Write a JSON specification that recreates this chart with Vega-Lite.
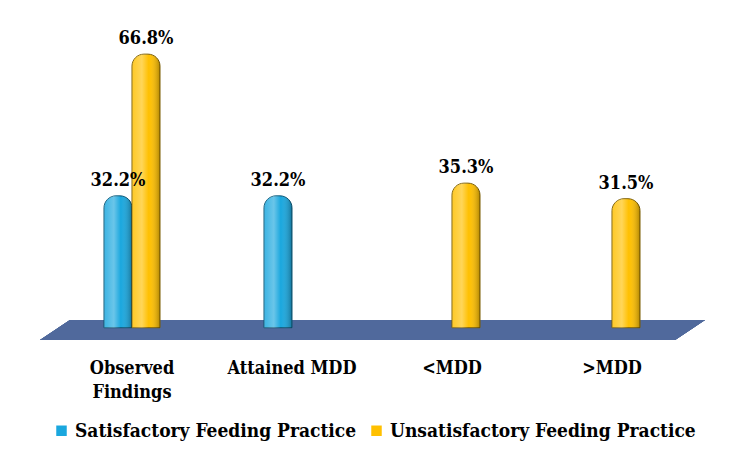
{
  "$schema": "https://vega.github.io/schema/vega-lite/v6.json",
  "autosize": {"type": "none"},
  "width": 640,
  "height": 301,
  "padding": {"left": 52, "top": 39, "right": 55, "bottom": 120},
  "background": "white",
  "config": {
    "view": {"stroke": null},
    "font": "DejaVu Serif Condensed"
  },
  "data": {
    "values": [
      {"category": "Observed Findings", "series": "Satisfactory Feeding Practice", "value": 32.2, "label": "32.2%"},
      {"category": "Observed Findings", "series": "Unsatisfactory Feeding Practice", "value": 66.8, "label": "66.8%"},
      {"category": "Attained MDD", "series": "Satisfactory Feeding Practice", "value": 32.2, "label": "32.2%"},
      {"category": "<MDD", "series": "Unsatisfactory Feeding Practice", "value": 35.3, "label": "35.3%"},
      {"category": ">MDD", "series": "Unsatisfactory Feeding Practice", "value": 31.5, "label": "31.5%"}
    ]
  },
  "resolve": {"scale": {"x": "independent"}},
  "layer": [
    {
      "mark": {"type": "point", "filled": true, "color": "#50699c", "opacity": 1, "size": 442225,
               "shape": "M -0.91 -0.03 L 1 -0.03 L 0.91 0.03 L -1 0.03 Z"},
      "encoding": {
        "x": {"datum": 0.5008, "type": "quantitative", "scale": {"domain": [0, 1]}, "axis": null},
        "y": {"datum": -0.56, "type": "quantitative", "scale": {"domain": [-3, 70.5]}, "axis": null}
      }
    },
    {
      "encoding": {
        "x": {
          "field": "category", "type": "nominal",
          "sort": ["Observed Findings", "Attained MDD", "<MDD", ">MDD"],
          "scale": {"paddingInner": 0.65, "paddingOuter": 0.325},
          "axis": {
            "title": null, "domain": false, "ticks": false, "labelAngle": 0,
            "labelFont": "DejaVu Serif Condensed", "labelFontSize": 18, "labelFontWeight": "bold",
            "labelColor": "#000000", "labelPadding": 19, "labelLineHeight": 24, "labelDx": -13,
            "labelExpr": "datum.label == 'Observed Findings' ? ['Observed', 'Findings'] : datum.label"
          }
        },
        "xOffset": {"field": "series", "type": "nominal", "scale": {"domain": ["Satisfactory Feeding Practice", "Unsatisfactory Feeding Practice"]}},
        "y": {"field": "value", "type": "quantitative", "scale": {"domain": [-3, 70.5]}, "axis": null}
      },
      "layer": [
        {
          "mark": {"type": "bar", "size": 28, "cornerRadiusTopLeft": 12, "cornerRadiusTopRight": 12, "strokeWidth": 1},
          "encoding": {
            "y2": {"datum": 0},
            "color": {
              "field": "series", "type": "nominal",
              "scale": {"domain": ["Satisfactory Feeding Practice", "Unsatisfactory Feeding Practice"], "range": ["#1aa7de", "#ffc000"]},
              "legend": {
                "title": null, "orient": "bottom", "direction": "horizontal",
                "symbolType": "square", "symbolSize": 110, "symbolStrokeWidth": 0,
                "labelFont": "DejaVu Serif Condensed", "labelFontSize": 19, "labelFontWeight": "bold", "labelColor": "#000000",
                "columnPadding": 10, "labelOffset": 4, "offset": 20, "labelLimit": 400
              }
            },
            "stroke": {
              "field": "series", "type": "nominal",
              "scale": {"domain": ["Satisfactory Feeding Practice", "Unsatisfactory Feeding Practice"], "range": ["#0b5573", "#7a5c00"]},
              "legend": null
            }
          }
        },
        {
          "mark": {
            "type": "bar", "size": 28, "cornerRadiusTopLeft": 12, "cornerRadiusTopRight": 12,
            "fill": {
              "gradient": "linear", "x1": 0, "y1": 0, "x2": 1, "y2": 0,
              "stops": [
                {"offset": 0, "color": "rgba(255,255,255,0.15)"},
                {"offset": 0.35, "color": "rgba(255,255,255,0.35)"},
                {"offset": 0.6, "color": "rgba(255,255,255,0.0)"},
                {"offset": 1, "color": "rgba(0,0,0,0.3)"}
              ]
            }
          },
          "encoding": {
            "y2": {"datum": 0}
          }
        },
        {
          "mark": {"type": "text", "baseline": "bottom", "dy": -6, "font": "DejaVu Serif Condensed", "fontSize": 18, "fontWeight": "bold", "color": "#000000"},
          "encoding": {
            "text": {"field": "label", "type": "nominal"}
          }
        }
      ]
    }
  ]
}
